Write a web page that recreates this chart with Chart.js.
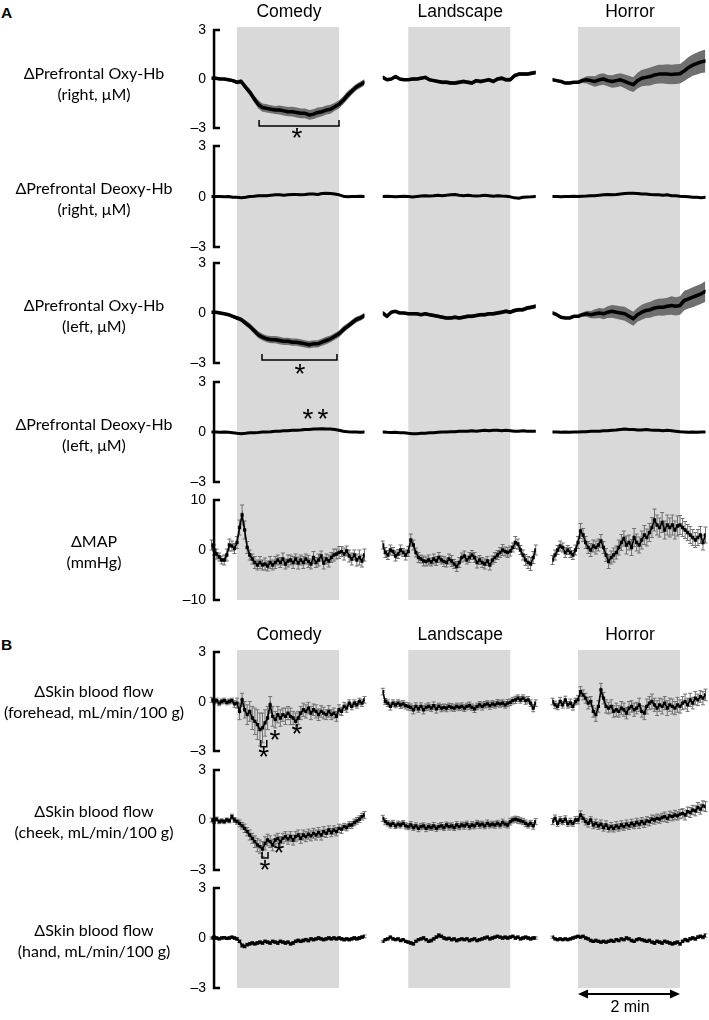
<!DOCTYPE html>
<html><head><meta charset="utf-8">
<script src="https://cdn.jsdelivr.net/npm/chart.js@4.4.1/dist/chart.umd.min.js"></script>
<style>
html,body{margin:0;padding:0;background:#fff;}
#page{position:relative;width:709px;height:1020px;overflow:hidden;background:#fff;}
#page canvas{position:absolute;}
.lbl{position:absolute;left:0;width:188px;text-align:center;font-family:Lato,sans-serif;font-size:16px;line-height:21px;color:#000;white-space:nowrap;}
.ttl{position:absolute;font-family:"Liberation Sans",Arial,sans-serif;font-size:17.5px;line-height:17.5px;color:#000;white-space:nowrap;transform:translateX(-50%);}
.sec{position:absolute;left:1px;font-family:"Liberation Sans",Arial,sans-serif;font-weight:bold;font-size:15.5px;line-height:15.5px;color:#000;}
</style></head>
<body><div id="page"></div>
<script>
// ---------------- time axes (s, 0 = movie onset) ----------------
const timeA = [-30,-25,-20,-15,-10,-5,0,5,10,15,20,25,30,35,40,45,50,55,60,65,70,75,80,85,90,95,100,105,110,115,120,125,130,135,140,145,150];
const timeB = [-30,-27,-24,-21,-18,-15,-12,-9,-6,-3,0,3,6,9,12,15,18,21,24,27,30,33,36,39,42,45,48,51,54,57,60,63,66,69,72,75,78,81,84,87,90,93,96,99,102,105,108,111,114,117,120,123,126,129,132,135,138,141,144,147,150];
const movies = ['Comedy','Landscape','Horror'];
const ticksHb = [-3,0,3];
const ticksMap = [-10,0,10];

// ---------------- A: prefrontal Oxy-Hb (right) ----------------
const oxyR_comedy = [0.05,0.05,0.0,0.0,-0.05,-0.1,-0.2,-0.15,-0.5,-0.8,-1.2,-1.55,-1.75,-1.8,-1.85,-1.9,-1.9,-1.95,-2.0,-2.0,-2.05,-2.1,-2.1,-2.2,-2.15,-2.05,-2.0,-1.9,-1.85,-1.7,-1.55,-1.3,-1.0,-0.75,-0.5,-0.35,-0.2];
const oxyR_comedy_sem = [0.08,0.08,0.08,0.08,0.1,0.1,0.12,0.15,0.18,0.2,0.22,0.25,0.25,0.25,0.25,0.25,0.28,0.28,0.28,0.3,0.3,0.3,0.3,0.3,0.3,0.3,0.28,0.28,0.28,0.25,0.25,0.25,0.25,0.22,0.2,0.2,0.2];
const oxyR_landscape = [0.1,-0.05,0.0,0.15,0.0,-0.05,-0.05,0.0,0.0,0.05,0.1,-0.05,-0.1,-0.15,-0.2,-0.2,-0.25,-0.25,-0.2,-0.15,-0.2,-0.25,-0.1,-0.15,-0.1,-0.05,-0.15,0.0,0.05,-0.05,-0.05,0.2,0.3,0.3,0.3,0.35,0.4];
const oxyR_landscape_sem = [0.08,0.08,0.08,0.08,0.08,0.08,0.08,0.1,0.1,0.1,0.1,0.1,0.1,0.1,0.12,0.12,0.12,0.12,0.12,0.12,0.12,0.12,0.12,0.12,0.12,0.12,0.12,0.12,0.12,0.12,0.12,0.12,0.12,0.12,0.12,0.12,0.12];
const oxyR_horror = [-0.05,-0.1,-0.15,-0.25,-0.25,-0.2,-0.2,-0.1,-0.05,-0.1,-0.15,-0.05,0.0,-0.1,-0.15,-0.1,-0.05,-0.15,-0.25,-0.35,-0.1,0.05,0.1,0.15,0.25,0.3,0.3,0.3,0.28,0.3,0.32,0.5,0.7,0.85,0.95,1.05,1.1];
const oxyR_horror_sem = [0.08,0.08,0.08,0.08,0.08,0.08,0.1,0.15,0.22,0.28,0.32,0.35,0.35,0.35,0.38,0.4,0.4,0.42,0.45,0.45,0.48,0.5,0.52,0.55,0.55,0.58,0.58,0.6,0.6,0.6,0.6,0.62,0.65,0.65,0.68,0.68,0.7];

// ---------------- A: prefrontal Deoxy-Hb (right) ----------------
const deoxyR_comedy = [0.0,0.0,0.0,-0.02,0.0,-0.05,-0.05,-0.08,-0.05,0.0,0.02,0.05,0.05,0.05,0.08,0.1,0.1,0.08,0.1,0.12,0.12,0.1,0.12,0.15,0.15,0.12,0.18,0.2,0.18,0.15,0.1,0.02,-0.02,0.0,0.0,0.02,0.0];
const deoxyR_comedy_sem = [0.04,0.04,0.04,0.04,0.04,0.04,0.05,0.05,0.05,0.05,0.05,0.05,0.05,0.05,0.05,0.05,0.05,0.05,0.06,0.06,0.06,0.06,0.06,0.06,0.06,0.06,0.06,0.06,0.06,0.06,0.06,0.06,0.06,0.06,0.06,0.06,0.06];
const deoxyR_landscape = [0.0,0.02,0.0,-0.02,0.0,0.02,0.0,-0.03,0.0,0.03,0.05,0.03,0.05,0.08,0.05,0.08,0.1,0.12,0.08,0.05,0.08,0.05,0.03,0.05,0.08,0.05,0.02,0.05,0.03,0.02,-0.02,-0.08,-0.1,-0.05,-0.03,-0.02,0.0];
const deoxyR_landscape_sem = [0.04,0.04,0.04,0.04,0.04,0.04,0.04,0.04,0.05,0.05,0.05,0.05,0.05,0.05,0.05,0.05,0.05,0.05,0.05,0.05,0.05,0.05,0.05,0.05,0.05,0.05,0.05,0.05,0.05,0.05,0.05,0.05,0.05,0.05,0.05,0.05,0.05];
const deoxyR_horror = [0.0,0.0,-0.02,0.0,0.0,0.02,0.0,0.02,0.03,0.05,0.05,0.08,0.1,0.12,0.1,0.12,0.15,0.18,0.2,0.2,0.18,0.15,0.15,0.12,0.1,0.1,0.08,0.1,0.05,0.05,0.02,0.0,-0.02,-0.05,-0.05,-0.08,-0.05];
const deoxyR_horror_sem = [0.04,0.04,0.04,0.04,0.04,0.04,0.05,0.05,0.05,0.05,0.05,0.05,0.06,0.06,0.06,0.06,0.06,0.06,0.06,0.06,0.06,0.06,0.06,0.06,0.06,0.06,0.06,0.06,0.06,0.06,0.06,0.06,0.06,0.06,0.06,0.06,0.06];

// ---------------- A: prefrontal Oxy-Hb (left) ----------------
const oxyL_comedy = [0.05,0.05,0.0,-0.05,-0.1,-0.2,-0.3,-0.4,-0.6,-0.8,-1.05,-1.3,-1.45,-1.55,-1.6,-1.6,-1.65,-1.7,-1.7,-1.75,-1.75,-1.8,-1.85,-1.9,-1.85,-1.85,-1.75,-1.65,-1.55,-1.4,-1.25,-1.0,-0.8,-0.6,-0.4,-0.3,-0.15];
const oxyL_comedy_sem = [0.08,0.08,0.08,0.08,0.1,0.1,0.12,0.14,0.16,0.18,0.2,0.2,0.2,0.2,0.22,0.22,0.22,0.22,0.22,0.22,0.22,0.22,0.22,0.22,0.22,0.22,0.22,0.22,0.2,0.2,0.2,0.2,0.18,0.18,0.18,0.16,0.16];
const oxyL_landscape = [0.0,-0.2,0.05,0.1,0.0,0.0,-0.05,-0.05,-0.05,-0.1,-0.05,-0.1,-0.15,-0.2,-0.25,-0.3,-0.3,-0.25,-0.3,-0.25,-0.2,-0.2,-0.15,-0.1,-0.1,-0.05,-0.05,0.0,0.05,0.1,0.05,0.15,0.2,0.2,0.3,0.35,0.4];
const oxyL_landscape_sem = [0.08,0.08,0.08,0.08,0.08,0.08,0.09,0.1,0.1,0.1,0.1,0.1,0.1,0.1,0.11,0.11,0.11,0.11,0.11,0.11,0.11,0.11,0.11,0.11,0.11,0.11,0.11,0.12,0.12,0.12,0.12,0.12,0.12,0.12,0.12,0.12,0.12];
const oxyL_horror = [0.0,-0.1,-0.25,-0.3,-0.3,-0.2,-0.2,-0.1,-0.05,-0.1,-0.05,0.0,-0.05,0.05,0.1,0.05,0.0,-0.05,-0.2,-0.35,-0.1,0.05,0.15,0.2,0.3,0.35,0.35,0.4,0.45,0.4,0.45,0.75,0.85,0.95,1.05,1.15,1.3];
const oxyL_horror_sem = [0.05,0.05,0.05,0.05,0.05,0.05,0.08,0.12,0.18,0.22,0.28,0.3,0.32,0.35,0.38,0.4,0.4,0.42,0.42,0.42,0.42,0.45,0.45,0.48,0.5,0.5,0.52,0.52,0.55,0.55,0.55,0.58,0.58,0.6,0.6,0.6,0.62];

// ---------------- A: prefrontal Deoxy-Hb (left) ----------------
const deoxyL_comedy = [0.0,0.0,-0.02,0.0,-0.02,-0.05,-0.08,-0.1,-0.08,-0.05,-0.05,-0.03,0.0,0.0,0.02,0.05,0.05,0.08,0.08,0.1,0.1,0.12,0.15,0.15,0.18,0.18,0.2,0.18,0.18,0.15,0.1,0.05,0.02,0.0,0.0,-0.02,0.0];
const deoxyL_comedy_sem = [0.04,0.04,0.04,0.04,0.04,0.04,0.05,0.05,0.05,0.05,0.05,0.05,0.05,0.05,0.05,0.05,0.05,0.05,0.05,0.05,0.05,0.06,0.06,0.06,0.06,0.06,0.06,0.06,0.06,0.06,0.06,0.06,0.06,0.06,0.06,0.06,0.06];
const deoxyL_landscape = [0.0,-0.02,-0.03,-0.02,-0.05,-0.05,-0.08,-0.1,-0.1,-0.08,-0.08,-0.05,-0.05,-0.02,0.0,0.0,0.02,0.02,0.05,0.05,0.05,0.08,0.05,0.08,0.1,0.08,0.1,0.1,0.08,0.1,0.08,0.05,0.05,0.08,0.05,0.05,0.05];
const deoxyL_landscape_sem = [0.04,0.04,0.04,0.04,0.04,0.04,0.04,0.04,0.04,0.05,0.05,0.05,0.05,0.05,0.05,0.05,0.05,0.05,0.05,0.05,0.05,0.05,0.05,0.05,0.05,0.05,0.05,0.05,0.05,0.05,0.05,0.05,0.05,0.05,0.05,0.05,0.05];
const deoxyL_horror = [0.0,0.0,-0.02,0.0,-0.02,0.0,0.0,0.02,0.02,0.05,0.05,0.05,0.08,0.08,0.1,0.12,0.15,0.18,0.15,0.15,0.12,0.12,0.15,0.12,0.1,0.1,0.08,0.1,0.08,0.05,0.02,0.0,-0.02,0.0,-0.02,0.0,0.0];
const deoxyL_horror_sem = [0.04,0.04,0.04,0.04,0.04,0.04,0.05,0.05,0.05,0.05,0.05,0.05,0.05,0.05,0.05,0.05,0.06,0.06,0.06,0.06,0.06,0.06,0.06,0.06,0.06,0.06,0.06,0.06,0.06,0.06,0.06,0.06,0.06,0.06,0.06,0.06,0.06];

// ---------------- A: mean arterial pressure ----------------
const map_comedy = [1.0,0.0,-0.8,-1.4,-2.0,-2.0,-1.0,1.0,0.8,0.3,1.5,4.5,7.0,4.0,0.5,-1.0,-1.8,-2.5,-3.0,-2.5,-3.0,-2.8,-3.2,-2.5,-3.0,-2.5,-2.0,-2.5,-1.8,-2.8,-2.2,-2.0,-2.5,-1.8,-2.6,-2.0,-2.5,-1.8,-2.3,-2.8,-1.5,-2.5,-2.0,-1.2,-2.6,-1.8,-2.2,-1.5,-1.0,-0.8,-0.5,-0.3,-0.8,-0.2,-1.2,-1.8,-1.0,-2.0,-1.5,-2.2,-1.0];
const map_comedy_sem = [1.0,1.0,1.0,0.8,0.8,1.0,1.2,1.2,1.0,1.0,1.2,1.5,2.0,1.8,1.2,1.0,1.0,1.2,1.0,1.2,1.0,1.2,1.0,1.2,1.0,1.2,1.0,1.0,1.2,1.0,1.2,1.0,1.2,1.0,1.2,1.0,1.2,1.0,1.2,1.0,1.2,1.0,1.2,1.0,1.2,1.0,1.2,1.0,1.2,1.0,1.2,1.0,1.2,1.0,1.2,1.2,1.0,1.2,1.5,1.2,1.2];
const map_landscape = [1.0,-0.5,-1.0,0.0,-0.3,-1.2,-0.8,0.0,-0.5,-1.0,-0.3,2.0,1.0,-0.5,-1.5,-1.8,-2.2,-2.3,-2.0,-2.4,-1.8,-2.2,-1.5,-2.0,-2.3,-2.5,-1.8,-2.2,-2.8,-3.3,-2.5,-1.5,-1.2,-2.0,-1.5,-1.0,-1.5,-2.5,-2.0,-2.5,-2.8,-2.2,-3.0,-2.0,-1.5,-1.0,-0.5,0.0,-0.3,-0.5,-0.2,0.5,1.5,1.2,0.0,-1.0,-2.0,-2.5,-2.8,-1.5,0.0];
const map_landscape_sem = [0.8,1.0,0.9,1.0,0.8,1.0,0.9,1.0,0.8,1.0,1.0,1.2,1.0,0.9,1.0,0.8,1.0,0.9,1.0,0.8,1.0,0.9,1.0,0.8,1.0,0.9,1.0,1.1,0.9,1.0,1.0,0.9,1.0,0.8,1.0,0.9,1.0,1.1,0.9,1.0,1.0,0.9,1.0,0.8,1.0,0.9,1.0,1.1,0.9,1.0,1.0,0.9,1.2,1.0,0.9,1.0,1.1,1.2,1.3,1.2,1.0];
const map_horror = [-2.0,-1.0,0.0,0.8,0.5,-0.5,0.0,-0.5,-1.0,0.0,1.5,3.8,3.0,1.5,0.5,0.0,0.8,0.5,1.0,1.8,0.5,-1.0,-2.3,-1.5,-1.0,-0.5,0.5,1.5,2.3,1.0,1.5,0.5,2.5,1.5,1.0,2.0,3.0,2.5,3.5,4.5,6.0,5.0,4.5,5.5,4.0,5.0,4.5,5.0,4.0,4.8,5.0,4.5,4.0,3.5,3.0,2.5,2.0,2.5,3.0,1.5,3.0];
const map_horror_sem = [0.9,1.0,0.9,1.0,0.9,1.0,0.9,1.0,0.9,1.0,1.2,1.5,1.3,1.2,1.2,1.3,1.2,1.3,1.2,1.3,1.2,1.3,1.4,1.3,1.4,1.3,1.5,1.6,1.5,1.8,1.5,1.6,1.8,1.7,1.6,1.8,1.9,1.7,1.8,2.0,2.2,2.0,1.9,2.0,1.8,2.0,1.9,2.0,1.8,2.0,1.9,1.8,1.7,1.6,1.7,1.6,1.5,1.6,1.7,1.5,1.6];

// ---------------- B: skin blood flow (forehead) ----------------
const sbfF_comedy = [0.1,0.0,0.05,-0.1,0.0,0.05,-0.05,0.0,0.05,-0.15,-0.1,-0.6,0.1,-0.5,-0.8,-0.6,-1.0,-1.2,-1.4,-1.7,-1.6,-1.3,-1.0,-0.2,-0.9,-1.1,-0.8,-1.0,-0.8,-0.9,-0.7,-0.9,-1.0,-1.2,-1.0,-0.7,-0.5,-0.6,-0.4,-0.7,-0.5,-0.6,-0.8,-0.6,-0.7,-0.8,-0.6,-0.8,-0.7,-0.9,-0.5,-0.6,-0.3,-0.4,-0.1,-0.3,-0.1,-0.2,0.0,-0.1,0.1];
const sbfF_comedy_sem = [0.15,0.15,0.15,0.15,0.15,0.15,0.15,0.15,0.15,0.2,0.3,0.5,0.4,0.5,0.6,0.6,0.7,0.8,0.9,1.0,0.9,0.8,0.7,0.5,0.6,0.5,0.5,0.5,0.4,0.5,0.4,0.5,0.4,0.5,0.4,0.4,0.4,0.4,0.35,0.4,0.35,0.4,0.35,0.35,0.35,0.3,0.35,0.3,0.3,0.3,0.3,0.25,0.25,0.25,0.2,0.2,0.2,0.2,0.2,0.2,0.2];
const sbfF_landscape = [0.6,0.0,-0.1,-0.3,-0.1,-0.2,-0.1,-0.2,-0.15,-0.25,-0.3,-0.35,-0.5,-0.3,-0.45,-0.3,-0.5,-0.35,-0.3,-0.4,-0.25,-0.45,-0.3,-0.4,-0.35,-0.4,-0.3,-0.35,-0.4,-0.3,-0.35,-0.3,-0.4,-0.3,-0.25,-0.35,-0.45,-0.3,-0.2,-0.3,-0.2,-0.15,-0.25,-0.15,-0.2,-0.1,-0.15,-0.1,-0.2,-0.1,-0.05,0.05,0.1,0.2,0.1,0.2,0.05,0.1,-0.1,-0.4,-0.1];
const sbfF_landscape_sem = [0.2,0.18,0.2,0.22,0.2,0.18,0.2,0.22,0.2,0.2,0.22,0.2,0.25,0.22,0.2,0.22,0.25,0.2,0.22,0.2,0.22,0.25,0.2,0.22,0.2,0.22,0.2,0.22,0.2,0.2,0.2,0.22,0.2,0.2,0.22,0.2,0.22,0.2,0.2,0.22,0.2,0.2,0.22,0.2,0.2,0.22,0.2,0.2,0.2,0.22,0.2,0.2,0.22,0.2,0.2,0.2,0.22,0.2,0.2,0.22,0.2];
const sbfF_horror = [0.0,-0.2,-0.3,0.0,-0.2,0.1,-0.2,-0.1,-0.3,0.0,0.1,0.6,0.4,0.2,-0.1,0.0,-0.6,-0.8,-0.3,0.7,0.2,-0.3,-0.4,-0.3,-0.6,-0.5,-0.6,-0.4,-0.5,-0.7,-0.4,-0.3,-0.5,-0.4,-0.2,-0.6,-0.7,-0.3,-0.1,0.0,-0.2,-0.4,-0.2,-0.3,-0.1,-0.4,-0.2,-0.3,-0.4,-0.2,-0.3,-0.1,0.0,-0.2,0.1,-0.1,0.2,0.1,0.3,0.2,0.4];
const sbfF_horror_sem = [0.2,0.22,0.2,0.25,0.2,0.22,0.2,0.25,0.22,0.2,0.25,0.3,0.3,0.3,0.35,0.3,0.35,0.4,0.35,0.4,0.35,0.4,0.35,0.4,0.35,0.4,0.35,0.4,0.4,0.35,0.4,0.35,0.4,0.35,0.4,0.35,0.4,0.45,0.4,0.45,0.4,0.45,0.4,0.45,0.4,0.45,0.4,0.45,0.4,0.45,0.4,0.4,0.45,0.4,0.4,0.35,0.4,0.35,0.35,0.4,0.35];

// ---------------- B: skin blood flow (cheek) ----------------
const sbfC_comedy = [0.0,-0.1,0.05,-0.1,-0.05,-0.1,0.0,-0.05,0.2,0.0,-0.1,-0.2,-0.35,-0.5,-0.7,-0.9,-1.1,-1.3,-1.5,-1.6,-1.75,-1.4,-1.2,-1.3,-1.5,-1.2,-1.1,-1.3,-1.1,-1.0,-1.15,-1.0,-1.2,-1.0,-0.9,-1.1,-0.9,-1.0,-0.85,-0.95,-0.8,-0.9,-0.75,-0.9,-0.7,-0.8,-0.6,-0.75,-0.6,-0.7,-0.5,-0.55,-0.4,-0.45,-0.3,-0.3,-0.15,-0.05,0.05,0.2,0.3];
const sbfC_comedy_sem = [0.12,0.12,0.12,0.12,0.12,0.12,0.12,0.12,0.15,0.15,0.15,0.2,0.2,0.25,0.25,0.3,0.3,0.35,0.4,0.4,0.45,0.4,0.35,0.35,0.35,0.3,0.3,0.3,0.3,0.3,0.3,0.3,0.3,0.3,0.3,0.3,0.3,0.3,0.3,0.3,0.3,0.3,0.3,0.3,0.3,0.25,0.25,0.25,0.25,0.25,0.25,0.25,0.2,0.2,0.2,0.2,0.2,0.2,0.2,0.2,0.2];
const sbfC_landscape = [0.1,-0.1,-0.2,-0.3,-0.2,-0.35,-0.25,-0.3,-0.2,-0.35,-0.4,-0.3,-0.45,-0.35,-0.5,-0.4,-0.35,-0.5,-0.4,-0.45,-0.35,-0.5,-0.4,-0.35,-0.45,-0.3,-0.4,-0.35,-0.45,-0.3,-0.4,-0.3,-0.35,-0.25,-0.4,-0.3,-0.35,-0.2,-0.3,-0.25,-0.35,-0.2,-0.3,-0.25,-0.3,-0.2,-0.3,-0.15,-0.25,-0.3,-0.1,0.0,0.05,0.0,-0.05,-0.1,-0.2,-0.3,-0.2,-0.35,-0.1];
const sbfC_landscape_sem = [0.18,0.18,0.16,0.18,0.18,0.16,0.18,0.18,0.16,0.18,0.18,0.2,0.18,0.18,0.2,0.18,0.18,0.2,0.18,0.18,0.2,0.18,0.18,0.2,0.18,0.18,0.2,0.18,0.18,0.2,0.18,0.18,0.2,0.18,0.18,0.2,0.18,0.18,0.2,0.18,0.18,0.2,0.18,0.18,0.2,0.18,0.18,0.2,0.18,0.18,0.2,0.18,0.18,0.2,0.18,0.18,0.2,0.18,0.18,0.2,0.18];
const sbfC_horror = [-0.1,0.1,-0.2,0.0,-0.1,0.05,-0.2,-0.1,-0.2,0.0,0.0,0.3,0.1,-0.1,-0.2,0.0,-0.3,-0.2,-0.35,-0.25,-0.45,-0.3,-0.5,-0.4,-0.5,-0.35,-0.45,-0.3,-0.4,-0.25,-0.35,-0.2,-0.3,-0.15,-0.25,-0.1,-0.2,-0.05,-0.1,0.05,0.0,0.1,0.05,0.15,0.2,0.1,0.25,0.2,0.3,0.25,0.35,0.4,0.3,0.5,0.45,0.6,0.55,0.75,0.65,0.85,0.8];
const sbfC_horror_sem = [0.18,0.2,0.18,0.2,0.18,0.2,0.18,0.2,0.18,0.2,0.22,0.25,0.22,0.2,0.22,0.2,0.22,0.25,0.22,0.25,0.22,0.25,0.22,0.25,0.22,0.25,0.22,0.25,0.22,0.25,0.22,0.25,0.22,0.25,0.25,0.25,0.25,0.25,0.25,0.25,0.25,0.25,0.25,0.25,0.28,0.25,0.28,0.25,0.28,0.25,0.28,0.28,0.3,0.28,0.3,0.28,0.3,0.3,0.3,0.3,0.3];

// ---------------- B: skin blood flow (hand) ----------------
const sbfH_comedy = [0.0,0.05,0.0,-0.05,0.0,0.02,-0.02,0.0,0.05,0.0,-0.05,-0.2,-0.45,-0.5,-0.4,-0.35,-0.3,-0.35,-0.3,-0.25,-0.3,-0.2,-0.25,-0.3,-0.2,-0.25,-0.3,-0.2,-0.25,-0.3,-0.25,-0.35,-0.3,-0.2,-0.15,-0.2,-0.15,-0.1,-0.15,-0.05,-0.1,-0.05,0.0,-0.05,-0.1,-0.05,0.0,-0.05,0.0,-0.05,0.0,-0.05,-0.1,-0.05,-0.1,-0.05,0.0,-0.05,0.0,0.05,0.1];
const sbfH_comedy_sem = [0.06,0.06,0.06,0.06,0.06,0.06,0.06,0.06,0.06,0.06,0.07,0.08,0.1,0.1,0.08,0.08,0.08,0.08,0.08,0.08,0.08,0.08,0.08,0.08,0.08,0.08,0.08,0.08,0.08,0.08,0.08,0.08,0.08,0.08,0.08,0.08,0.08,0.08,0.08,0.08,0.08,0.08,0.08,0.08,0.08,0.08,0.08,0.08,0.08,0.08,0.08,0.08,0.08,0.08,0.08,0.08,0.08,0.08,0.08,0.08,0.08];
const sbfH_landscape = [-0.2,-0.1,-0.05,0.05,-0.05,-0.1,-0.05,-0.15,-0.1,-0.2,-0.25,-0.3,-0.35,-0.2,-0.1,-0.05,0.0,-0.1,-0.2,-0.15,-0.05,0.05,0.15,0.1,0.0,-0.05,-0.02,-0.1,-0.05,-0.15,-0.1,-0.05,-0.1,-0.05,-0.15,-0.1,-0.05,-0.15,-0.1,-0.05,0.0,0.05,-0.05,0.0,0.05,0.1,0.05,0.0,0.05,0.0,0.05,0.1,0.0,0.05,-0.05,0.0,0.05,0.0,-0.05,0.0,0.0];
const sbfH_landscape_sem = [0.06,0.06,0.06,0.06,0.06,0.06,0.06,0.06,0.06,0.06,0.07,0.07,0.07,0.07,0.07,0.07,0.07,0.07,0.07,0.07,0.07,0.08,0.12,0.08,0.07,0.07,0.07,0.07,0.07,0.07,0.07,0.07,0.07,0.07,0.07,0.07,0.07,0.07,0.07,0.07,0.07,0.07,0.07,0.07,0.07,0.07,0.07,0.07,0.07,0.07,0.07,0.07,0.07,0.07,0.07,0.07,0.07,0.07,0.07,0.07,0.07];
const sbfH_horror = [0.05,-0.05,-0.1,-0.05,-0.1,-0.05,-0.1,-0.05,0.0,0.05,0.1,0.05,0.1,0.0,-0.05,-0.15,-0.2,-0.15,-0.2,-0.25,-0.2,-0.25,-0.2,-0.15,-0.2,-0.1,-0.15,-0.05,-0.1,0.0,-0.05,-0.15,-0.2,-0.1,-0.05,-0.1,-0.15,-0.2,-0.15,-0.25,-0.3,-0.2,-0.25,-0.3,-0.2,-0.25,-0.3,-0.35,-0.3,-0.25,-0.35,-0.2,-0.1,-0.15,-0.05,0.0,-0.05,0.05,0.1,0.05,0.15];
const sbfH_horror_sem = [0.06,0.06,0.06,0.06,0.06,0.06,0.06,0.06,0.06,0.06,0.07,0.07,0.07,0.07,0.07,0.07,0.07,0.07,0.07,0.07,0.07,0.07,0.07,0.07,0.07,0.07,0.07,0.07,0.07,0.07,0.07,0.07,0.07,0.07,0.07,0.07,0.07,0.07,0.07,0.07,0.08,0.08,0.08,0.08,0.08,0.08,0.08,0.08,0.08,0.08,0.08,0.08,0.08,0.08,0.08,0.08,0.08,0.08,0.08,0.1,0.1];

// ---------------- row labels ----------------
const rowLabelsA = [['ΔPrefrontal Oxy-Hb','(right, μM)'],['ΔPrefrontal Deoxy-Hb','(right, μM)'],['ΔPrefrontal Oxy-Hb','(left, μM)'],['ΔPrefrontal Deoxy-Hb','(left, μM)'],['ΔMAP','(mmHg)']];
const rowLabelsB = [['ΔSkin blood flow','(forehead, mL/min/100 g)'],['ΔSkin blood flow','(cheek, mL/min/100 g)'],['ΔSkin blood flow','(hand, mL/min/100 g)']];

// ================= layout (pixels) =================
const COLS = [
  {left:175, width:197, aL:211.5, aR:364.5, axis:true},
  {left:372, width:173, aL:382.75, aR:535.75, axis:false},
  {left:545, width:164, aL:552.5, aR:705.5, axis:false}
];
const SECTS = {
  A:{top:15, height:600, T:27, B:600, rows:[[30,128],[146,247],[263,363],[382,482],[500,600]], labelY:[83,198,315,434,551], titleTop:2.5, letterTop:5},
  B:{top:640, height:380, T:650, B:988, rows:[[652,751],[770,870],[888,988]], labelY:[701,821,939.5], titleTop:625.5, letterTop:637}
};

const rowsA = [
  {kind:'band', lo:-3, hi:3, ticks:ticksHb, lw:3.5, time:timeA, series:[[oxyR_comedy,oxyR_comedy_sem],[oxyR_landscape,oxyR_landscape_sem],[oxyR_horror,oxyR_horror_sem]]},
  {kind:'band', lo:-3, hi:3, ticks:ticksHb, lw:3, time:timeA, series:[[deoxyR_comedy,deoxyR_comedy_sem],[deoxyR_landscape,deoxyR_landscape_sem],[deoxyR_horror,deoxyR_horror_sem]]},
  {kind:'band', lo:-3, hi:3, ticks:ticksHb, lw:3.5, time:timeA, series:[[oxyL_comedy,oxyL_comedy_sem],[oxyL_landscape,oxyL_landscape_sem],[oxyL_horror,oxyL_horror_sem]]},
  {kind:'band', lo:-3, hi:3, ticks:ticksHb, lw:3, time:timeA, series:[[deoxyL_comedy,deoxyL_comedy_sem],[deoxyL_landscape,deoxyL_landscape_sem],[deoxyL_horror,deoxyL_horror_sem]]},
  {kind:'bars', lo:-10, hi:10, ticks:ticksMap, time:timeB, series:[[map_comedy,map_comedy_sem],[map_landscape,map_landscape_sem],[map_horror,map_horror_sem]]}
];
const rowsB = [
  {kind:'bars', lo:-3, hi:3, ticks:ticksHb, time:timeB, series:[[sbfF_comedy,sbfF_comedy_sem],[sbfF_landscape,sbfF_landscape_sem],[sbfF_horror,sbfF_horror_sem]]},
  {kind:'bars', lo:-3, hi:3, ticks:ticksHb, time:timeB, series:[[sbfC_comedy,sbfC_comedy_sem],[sbfC_landscape,sbfC_landscape_sem],[sbfC_horror,sbfC_horror_sem]]},
  {kind:'bars', lo:-3, hi:3, ticks:ticksHb, time:timeB, series:[[sbfH_comedy,sbfH_comedy_sem],[sbfH_landscape,sbfH_landscape_sem],[sbfH_horror,sbfH_horror_sem]]}
];

// significance marks (x in s, y in row units)
const annotA = [
  {type:'bracket', row:0, x1:26, x2:120, y:-2.88, h:6},
  {type:'star', row:0, x:70.6, y:-3.55},
  {type:'bracket', row:2, x1:29.4, x2:117.6, y:-2.82, h:6},
  {type:'star', row:2, x:74, y:-3.55},
  {type:'star', row:3, x:83.5, y:0.85},
  {type:'star', row:3, x:101, y:0.85}
];
const annotB = [
  {type:'cup', row:0, x1:28, x2:35, y1:-2.33, y2:-2.74},
  {type:'star', row:0, x:31.5, y:-3.3},
  {type:'star', row:0, x:44.7, y:-2.27},
  {type:'star', row:0, x:70.6, y:-1.9},
  {type:'cup', row:1, x1:29.4, x2:36.5, y1:-1.92, y2:-2.28},
  {type:'star', row:1, x:33, y:-2.94},
  {type:'star', row:1, x:49.4, y:-1.92}
];

const GREY = '#d9d9d9', BAND = '#6f6f6f', ERR = '#707070';
const page = document.getElementById('page');

function addCanvas(left, top, w, h){
  const c = document.createElement('canvas');
  c.width = w; c.height = h;
  c.style.left = left+'px'; c.style.top = top+'px';
  c.style.width = w+'px'; c.style.height = h+'px';
  page.appendChild(c);
  return c;
}

function fmtTick(v){ return v < 0 ? '\u2013' + Math.abs(v) : String(v); }

function makePanel(sectKey, ci, rows, annots, arrow){
  const S = SECTS[sectKey], C = COLS[ci];
  const canvas = addCanvas(C.left, S.top, C.width, S.height);
  const datasets = [];
  const scales = {x:{type:'linear', min:-30, max:150, display:false}};
  rows.forEach((r, i) => {
    const [t, b] = S.rows[i];
    const k = (r.hi - r.lo) / (b - t);
    const yid = 'y' + i;
    scales[yid] = {
      type:'linear', position:'left', display:false,
      min: r.lo - (S.B - b) * k, max: r.hi + (t - S.T) * k,
      afterBuildTicks: s => { s.ticks = r.ticks.map(v => ({value:v})); }
    };
    const [mean, sem] = r.series[ci];
    const pts = arr => r.time.map((x, j) => ({x, y: arr[j]}));
    if (r.kind === 'band') {
      datasets.push({data: r.time.map((x,j)=>({x, y: mean[j]+sem[j]})), yAxisID:yid, borderWidth:0, pointRadius:0, fill:'+1', backgroundColor:BAND, order:2});
      datasets.push({data: r.time.map((x,j)=>({x, y: mean[j]-sem[j]})), yAxisID:yid, borderWidth:0, pointRadius:0, fill:false, order:2});
      datasets.push({data: pts(mean), yAxisID:yid, borderColor:'#000', borderWidth:r.lw, pointRadius:0, fill:false, order:1, borderJoinStyle:'round', borderCapStyle:'round'});
    } else {
      datasets.push({data: pts(mean), yAxisID:yid, borderColor:'#000', borderWidth:1.6, pointRadius:2.3, pointStyle:'rect',
        pointBackgroundColor:'#000', pointBorderWidth:0, fill:false, order:1, errs:sem, means:mean, times:r.time});
    }
  });

  const plugin = {
    id:'panel'+sectKey+ci,
    beforeDatasetsDraw(chart){
      const {ctx, chartArea:a, scales:{x}} = chart;
      ctx.save();
      const x0 = x.getPixelForValue(0), x1 = x.getPixelForValue(120);
      ctx.fillStyle = GREY;
      ctx.fillRect(x0, a.top, x1 - x0, a.bottom - a.top);
      ctx.strokeStyle = ERR; ctx.lineWidth = 1;
      chart.data.datasets.forEach(ds => {
        if (!ds.errs) return;
        const ys = chart.scales[ds.yAxisID];
        ctx.beginPath();
        ds.times.forEach((t, j) => {
          const px = x.getPixelForValue(t);
          const yT = ys.getPixelForValue(ds.means[j] + ds.errs[j]);
          const yB = ys.getPixelForValue(ds.means[j] - ds.errs[j]);
          ctx.moveTo(px, yT); ctx.lineTo(px, yB);
          ctx.moveTo(px-2, yT); ctx.lineTo(px+2, yT);
          ctx.moveTo(px-2, yB); ctx.lineTo(px+2, yB);
        });
        ctx.stroke();
      });
      ctx.restore();
    },
    afterDatasetsDraw(chart){
      const {ctx, chartArea:a, scales:{x}} = chart;
      ctx.save();
      ctx.strokeStyle = '#000'; ctx.fillStyle = '#000';
      if (C.axis) {
        const xa = x.getPixelForValue(-27);
        // bracket-shaped y axes
        ctx.lineWidth = 2.5; ctx.lineJoin = 'miter'; ctx.lineCap = 'butt';
        ctx.beginPath();
        rows.forEach((r, i) => {
          const ys = chart.scales['y'+i];
          const yt = ys.getPixelForValue(r.hi), yb = ys.getPixelForValue(r.lo);
          ctx.moveTo(xa+6, yt); ctx.lineTo(xa, yt); ctx.lineTo(xa, yb); ctx.lineTo(xa+6, yb);
        });
        ctx.stroke();
        // tick labels taken from the scale's own ticks
        ctx.font = '14px "Liberation Sans"'; ctx.textAlign = 'right'; ctx.textBaseline = 'middle';
        rows.forEach((r, i) => {
          const ys = chart.scales['y'+i];
          ys.ticks.forEach(tk => ctx.fillText(fmtTick(tk.value), xa - 8, ys.getPixelForValue(tk.value) + 0.5));
        });
      }
      ctx.lineWidth = 1.5;
      (annots || []).forEach(an => {
        const ys = chart.scales['y'+an.row];
        if (an.type === 'star') {
          const fs = 28;
          ctx.font = fs + 'px "Liberation Sans"';
          ctx.textAlign = 'center'; ctx.textBaseline = 'alphabetic';
          ctx.fillText('*', x.getPixelForValue(an.x), ys.getPixelForValue(an.y) + 0.37*fs);
        } else if (an.type === 'bracket') {
          const y = ys.getPixelForValue(an.y), x1 = x.getPixelForValue(an.x1), x2 = x.getPixelForValue(an.x2);
          ctx.beginPath(); ctx.moveTo(x1, y-an.h); ctx.lineTo(x1, y); ctx.lineTo(x2, y); ctx.lineTo(x2, y-an.h); ctx.stroke();
        } else if (an.type === 'cup') {
          const y1 = ys.getPixelForValue(an.y1), y2 = ys.getPixelForValue(an.y2), x1 = x.getPixelForValue(an.x1), x2 = x.getPixelForValue(an.x2);
          ctx.beginPath(); ctx.moveTo(x1, y1); ctx.lineTo(x1, y2); ctx.lineTo(x2, y2); ctx.lineTo(x2, y1); ctx.stroke();
        }
      });
      if (arrow) {
        const y = a.bottom + 6, x0 = x.getPixelForValue(0), x1 = x.getPixelForValue(120);
        ctx.lineWidth = 2;
        ctx.beginPath(); ctx.moveTo(x0+6, y); ctx.lineTo(x1-6, y); ctx.stroke();
        ctx.beginPath(); ctx.moveTo(x0, y); ctx.lineTo(x0+10, y-4.5); ctx.lineTo(x0+10, y+4.5); ctx.closePath(); ctx.fill();
        ctx.beginPath(); ctx.moveTo(x1, y); ctx.lineTo(x1-10, y-4.5); ctx.lineTo(x1-10, y+4.5); ctx.closePath(); ctx.fill();
        ctx.font = '16px "Liberation Sans"'; ctx.textAlign = 'center'; ctx.textBaseline = 'middle';
        ctx.fillText('2 min', (x0+x1)/2 + 1, y + 14);
      }
      ctx.restore();
    }
  };

  new Chart(canvas, {
    type:'line',
    data:{datasets},
    options:{
      responsive:false, animation:false, devicePixelRatio:1, events:[],
      layout:{autoPadding:false, padding:{left:C.aL - C.left, right:(C.left + C.width) - C.aR, top:S.T - S.top, bottom:(S.top + S.height) - S.B}},
      plugins:{legend:{display:false}, tooltip:{enabled:false}},
      scales
    },
    plugins:[plugin]
  });
}

function addDiv(cls, html, style){
  const d = document.createElement('div');
  d.className = cls; d.innerHTML = html;
  Object.assign(d.style, style);
  page.appendChild(d);
}

[0,1,2].forEach(ci => makePanel('A', ci, rowsA, ci === 0 ? annotA : null, false));
[0,1,2].forEach(ci => makePanel('B', ci, rowsB, ci === 0 ? annotB : null, ci === 2));

[['A', rowLabelsA], ['B', rowLabelsB]].forEach(([key, labels]) => {
  const S = SECTS[key];
  addDiv('sec', key, {top: S.letterTop + 'px'});
  COLS.forEach((C, ci) => addDiv('ttl', movies[ci], {left: ((C.aL + C.aR) / 2 + 1) + 'px', top: S.titleTop + 'px'}));
  labels.forEach((l, i) => addDiv('lbl', l[0] + '<br>' + l[1], {top: (S.labelY[i] - 21) + 'px'}));
});
</script>
</body></html>
